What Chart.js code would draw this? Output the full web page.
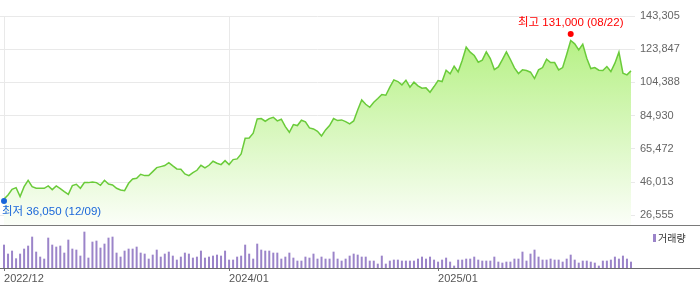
<!DOCTYPE html>
<html lang="ko">
<head>
<meta charset="utf-8">
<title>주가 차트</title>
<script src="https://cdn.jsdelivr.net/npm/chart.js@4/dist/chart.umd.min.js"></script>
<style>
  html, body { margin: 0; padding: 0; background: #fff; }
  #wrap { position: relative; width: 700px; height: 289px; overflow: hidden; }
  #priceChart { position: absolute; left: 0; top: 0; }
  #volumeChart { position: absolute; left: 0; top: 226px; }
</style>
</head>
<body>
<div id="wrap">
  <canvas id="priceChart" width="700" height="226"></canvas>
  <canvas id="volumeChart" width="700" height="63"></canvas>
</div>
<script>
// 주간 종가 (2022/12/09 ~ 2025/11/28), 157주
const prices = [
  36050, 38470, 41800, 42770, 37500, 43360, 47070, 43360, 42380, 42380,
  42380, 43750, 41600, 43750, 42190, 40430, 38870, 43950, 44730, 42380,
  45700, 45700, 46100, 45700, 44140, 47070, 44920, 44340, 42380, 41400,
  41010, 45310, 47850, 48240, 50590, 49810, 49810, 52150, 54500, 55080,
  55670, 57430, 55470, 53720, 53520, 50780, 49810, 51570, 52930, 55870,
  54300, 55870, 58210, 57040, 56260, 58600, 56260, 59190, 59580, 62510,
  71690, 71890, 74620, 83030, 83220, 81660, 83220, 84000, 81850, 82830,
  78530, 75210, 79700, 79120, 82240, 81270, 77750, 77160, 75800, 73060,
  76580, 79120, 83220, 82050, 82440, 81460, 80100, 81850, 88300, 94160,
  91620, 89860, 92800, 94950, 97290, 96900, 101590, 105890, 104910, 102960,
  105690, 101590, 104520, 102370, 101000, 101200, 98660, 101980, 105500, 104910,
  111550, 109400, 113900, 110580, 117220, 125040, 122110, 120150, 116240, 117420,
  122300, 118390, 111950, 113510, 117810, 122300, 117810, 112920, 109600, 111750,
  111360, 110380, 106670, 111750, 113120, 118000, 116050, 116050, 111750, 113120,
  120740, 128940, 126990, 123470, 126800, 118590, 112530, 113120, 111550, 111360,
  113700, 110770, 115660, 122110, 109800, 108820, 111160
];

// 주간 거래량 (천주)
const volumes = [
  70, 43, 52, 29, 43, 58, 67, 94, 49, 34,
  28, 91, 70, 64, 67, 46, 85, 58, 55, 37,
  109, 31, 79, 82, 61, 73, 91, 94, 46, 34,
  52, 58, 58, 64, 46, 43, 28, 40, 55, 34,
  43, 49, 37, 25, 34, 46, 43, 31, 34, 52,
  31, 34, 37, 40, 37, 52, 25, 25, 34, 37,
  70, 43, 28, 73, 55, 52, 52, 46, 46, 28,
  34, 46, 31, 22, 22, 34, 31, 43, 28, 34,
  28, 28, 49, 28, 22, 28, 37, 43, 40, 34,
  34, 22, 22, 13, 37, 13, 22, 25, 25, 22,
  22, 22, 22, 28, 34, 28, 34, 25, 19, 25,
  31, 19, 7, 25, 25, 28, 28, 34, 25, 22,
  22, 22, 34, 19, 16, 19, 19, 28, 28, 49,
  22, 43, 55, 34, 25, 25, 28, 25, 25, 19,
  28, 40, 25, 16, 22, 22, 19, 16, 7, 22,
  22, 25, 34, 28, 37, 28, 19
];

const yTicks = [26555, 46013, 65472, 84930, 104388, 123847, 143305];
const xTickIdx = [0, 56, 108];
const xTickLabels = ['2022/12', '2024/01', '2025/01'];

const highIdx = 141, highValue = 131000, highDate = '08/22';
const lowIdx = 0, lowValue = 36050, lowDate = '12/09';

const Y_MIN = 20873;   // 26,555 아래 여백
const VOL_MAX = 126;

const fmt = v => v.toLocaleString('en-US');
const tickFont = { family: "'Liberation Sans', Arial, sans-serif", size: 11 };

// 최고/최저 표시
const markPlugin = {
  id: 'highLow',
  afterDatasetsDraw(chart) {
    const { ctx, chartArea, scales: { x, y } } = chart;
    const marks = [
      { idx: highIdx, val: highValue, text: '최고 ' + fmt(highValue) + ' (' + highDate + ')', color: '#ff0000', dy: -3, ty: -11 },
      { idx: lowIdx, val: lowValue, text: '최저 ' + fmt(lowValue) + ' (' + lowDate + ')', color: '#1a66d9', dy: 2, ty: 11 }
    ];
    ctx.save();
    ctx.font = "11.5px 'Liberation Sans', 'Noto Sans CJK KR', sans-serif";
    ctx.textBaseline = 'middle';
    ctx.textAlign = 'left';
    marks.forEach(m => {
      const px = x.getPixelForValue(m.idx);
      const py = y.getPixelForValue(m.val) + m.dy;
      ctx.fillStyle = m.color;
      ctx.beginPath();
      ctx.arc(px, py, 3, 0, Math.PI * 2);
      ctx.fill();
      const w = ctx.measureText(m.text).width;
      let tx = px - w / 2;
      tx = Math.max(chartArea.left + 2, Math.min(tx, chartArea.right - w - 2));
      ctx.fillText(m.text, tx, py + m.ty);
    });
    ctx.restore();
  },
  afterDraw(chart) {
    const { ctx } = chart;
    ctx.save();
    ctx.fillStyle = '#7a7a7a';
    ctx.fillRect(0, chart.chartArea.bottom, chart.width, 1);
    ctx.restore();
  }
};

const volPlugin = {
  id: 'volExtras',
  afterDraw(chart) {
    const { ctx, chartArea } = chart;
    ctx.save();
    ctx.fillStyle = '#6a6a6a';
    ctx.fillRect(0, chartArea.bottom, chart.width, 1);
    // 범례
    ctx.fillStyle = '#9b84c9';
    ctx.fillRect(chartArea.right + 18, 8, 3, 8);
    ctx.fillStyle = '#333';
    ctx.font = "10px 'Noto Sans CJK KR', sans-serif";
    ctx.textBaseline = 'middle';
    ctx.fillText('거래량', chartArea.right + 23, 12.5);
    ctx.restore();
  }
};

function areaFill(context) {
  const area = context.chart.chartArea;
  if (!area) return 'rgba(180,240,130,0.5)';
  const g = context.chart.ctx.createLinearGradient(0, area.top, 0, area.bottom);
  g.addColorStop(0, '#adef76');
  g.addColorStop(1, '#fbfef8');
  return g;
}

new Chart(document.getElementById('priceChart'), {
  type: 'line',
  data: {
    datasets: [{
      data: prices.map((v, i) => ({ x: i, y: v })),
      borderColor: '#6acb3a',
      borderWidth: 1.5,
      pointRadius: 0,
      tension: 0,
      fill: 'start',
      backgroundColor: areaFill
    }]
  },
  options: {
    responsive: false,
    animation: false,
    layout: { padding: { top: 16, bottom: 1, left: 0, right: 0 } },
    plugins: { legend: { display: false }, tooltip: { enabled: false } },
    scales: {
      x: {
        type: 'linear', min: -1, max: 157,
        afterBuildTicks: s => { s.ticks = xTickIdx.map(v => ({ value: v })); },
        afterFit: s => { s.height = 0; s.paddingLeft = 0; s.paddingRight = 0; },
        ticks: { display: false },
        grid: { color: '#e9e9e9', drawTicks: false },
        border: { display: false }
      },
      y: {
        position: 'right', min: Y_MIN, max: yTicks[yTicks.length - 1],
        afterBuildTicks: s => { s.ticks = yTicks.map(v => ({ value: v })); },
        afterFit: s => { s.width = 65; s.paddingTop = 0; s.paddingBottom = 0; },
        ticks: { padding: 5, color: '#666', font: tickFont, callback: v => fmt(v) },
        grid: { color: '#e9e9e9', drawTicks: false },
        border: { display: false }
      }
    }
  },
  plugins: [markPlugin]
});

new Chart(document.getElementById('volumeChart'), {
  type: 'bar',
  data: {
    datasets: [{
      data: volumes.map((v, i) => ({ x: i, y: v })),
      backgroundColor: '#9b84c9',
      barThickness: 2,
      inflateAmount: 0
    }]
  },
  options: {
    responsive: false,
    animation: false,
    layout: { padding: 0 },
    plugins: { legend: { display: false }, tooltip: { enabled: false } },
    scales: {
      x: {
        type: 'linear', min: -1, max: 157, offset: false,
        afterBuildTicks: s => { s.ticks = xTickIdx.map(v => ({ value: v })); },
        afterFit: s => { s.height = 21; s.paddingLeft = 0; s.paddingRight = 0; },
        ticks: {
          autoSkip: false, maxRotation: 0, align: 'start', padding: 1,
          color: '#555', font: tickFont,
          callback: v => xTickLabels[xTickIdx.indexOf(v)]
        },
        grid: { offset: false, drawOnChartArea: false, drawTicks: true, tickLength: 3, color: '#777' },
        border: { display: false }
      },
      y: {
        position: 'right', min: 0, max: VOL_MAX,
        afterFit: s => { s.width = 65; s.paddingTop = 0; s.paddingBottom = 0; },
        ticks: { display: false },
        grid: { display: false },
        border: { display: false }
      }
    }
  },
  plugins: [volPlugin]
});
</script>
</body>
</html>
